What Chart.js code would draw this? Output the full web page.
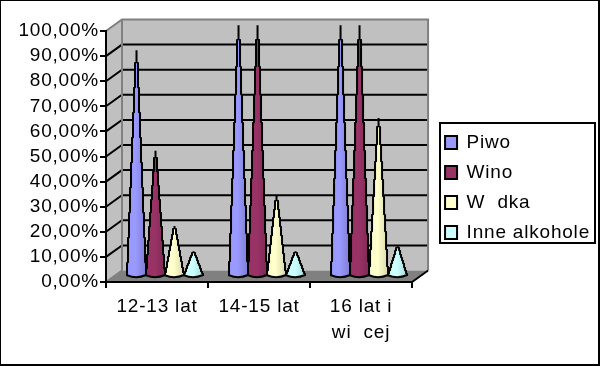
<!DOCTYPE html>
<html>
<head>
<meta charset="utf-8">
<style>
html, body { margin: 0; padding: 0; background: #fff; }
canvas { display: block; }
</style>
<script src="https://cdn.jsdelivr.net/npm/chart.js@4"></script>
</head>
<body>
<canvas id="wykres" width="600" height="366"></canvas>
<script>
var kategorie = ['12-13 lat', '14-15 lat', ['16 lat i', 'wi  cej']];
var etykietyY = ['0,00%', '10,00%', '20,00%', '30,00%', '40,00%', '50,00%', '60,00%', '70,00%', '80,00%', '90,00%', '100,00%'];
var nazwy = ['Piwo', 'Wino', 'W  dka', 'Inne alkohole'];
var piwo = [90, 100, 100];
var wino = [50, 100, 100];
var wodka = [20, 32, 63];
var inne = [10, 10, 12];
var kolory = ['#9999ff', '#993366', '#ffffcc', '#ccffff'];
var ciemne = ['#7f7fd2', '#7f2a55', '#d9d9ad', '#a9dcdc'];

// glebokosc wykresu 3D
var dx = 16, dy = 11.5;

function stozek(c, el, i) {
    var x = el.x + dx / 2;
    var dol = el.base - dy / 2;
    var gora = el.y - dy / 2;
    var r = 9;
    var k, w;
    c.beginPath();
    c.moveTo(x, gora);
    // boki schodkowe, zaokraglone do pelnych pikseli jak w oryginale
    for (k = Math.ceil(gora); k <= dol; k++) {
        w = Math.round(r * (k - gora) / (dol - gora));
        c.lineTo(x + (w > 0 ? w + 0.5 : 0), k);
    }
    c.quadraticCurveTo(x, dol + 4, x - r - 0.5, dol);
    for (k = Math.floor(dol); k >= gora; k--) {
        w = Math.round(r * (k - gora) / (dol - gora));
        c.lineTo(x - (w > 0 ? w + 0.5 : 0), k);
    }
    c.closePath();
    var g = c.createLinearGradient(x - r, 0, x + r, 0);
    g.addColorStop(0, kolory[i]);
    g.addColorStop(0.45, kolory[i]);
    g.addColorStop(1, ciemne[i]);
    c.fillStyle = g;
    c.fill();
    c.strokeStyle = '#000';
    c.lineWidth = 2;
    c.lineJoin = 'miter';
    c.stroke();
}

var sciany = {
    id: 'sciany',
    beforeLayout: function (chart) {
        chart.ctx.letterSpacing = '0.8px';
    },
    beforeDraw: function (chart) {
        var c = chart.ctx, a = chart.chartArea, y = chart.scales.y;
        c.save();
        // ramka calego obrazka
        c.fillStyle = '#000';
        c.fillRect(0, 0, 600, 1);
        c.fillRect(0, 0, 1, 366);
        c.fillRect(598, 0, 2, 366);
        c.fillRect(0, 364, 600, 2);
        // sciana tylna i boczna
        c.fillStyle = '#c0c0c0';
        c.beginPath();
        c.moveTo(a.left, a.top);
        c.lineTo(a.left + dx, a.top - dy);
        c.lineTo(a.right + dx, a.top - dy);
        c.lineTo(a.right + dx, a.bottom - dy);
        c.lineTo(a.left + dx, a.bottom - dy);
        c.lineTo(a.left, a.bottom);
        c.closePath();
        c.fill();
        // podloga
        c.fillStyle = '#808080';
        c.beginPath();
        c.moveTo(a.left, a.bottom);
        c.lineTo(a.left + dx, a.bottom - dy);
        c.lineTo(a.right + dx, a.bottom - dy);
        c.lineTo(a.right, a.bottom);
        c.closePath();
        c.fill();
        // linie siatki
        c.strokeStyle = '#000';
        c.lineWidth = 2;
        y.ticks.forEach(function (t) {
            if (t.value === 0 || t.value === 100) return;
            var p = y.getPixelForValue(t.value);
            c.beginPath();
            c.moveTo(a.left, p);
            c.lineTo(a.left + dx, p - dy);
            c.lineTo(a.right + dx, p - dy);
            c.stroke();
        });
        // krawedzie scian
        c.strokeStyle = '#808080';
        c.beginPath();
        c.moveTo(a.left, a.top);
        c.lineTo(a.left + dx, a.top - dy);
        c.lineTo(a.right + dx, a.top - dy);
        c.lineTo(a.right + dx, a.bottom - dy);
        c.moveTo(a.left + dx, a.top - dy);
        c.lineTo(a.left + dx, a.bottom - dy);
        c.lineTo(a.left, a.bottom);
        c.stroke();
        c.strokeStyle = '#000';
        c.beginPath();
        c.moveTo(a.right, a.bottom);
        c.lineTo(a.right + dx, a.bottom - dy);
        c.stroke();
        // ramka legendy
        c.strokeRect(440, 123, 155, 120);
        c.restore();
    },
    beforeDatasetsDraw: function (chart) {
        var c = chart.ctx;
        c.save();
        chart.data.datasets.forEach(function (d, i) {
            chart.getDatasetMeta(i).data.forEach(function (el) {
                stozek(c, el, i);
            });
        });
        c.restore();
        return false;
    }
};

var serie = [piwo, wino, wodka, inne].map(function (v, i) {
    return {
        label: nazwy[i],
        data: v,
        backgroundColor: kolory[i],
        borderColor: '#000',
        borderWidth: 2,
        categoryPercentage: 0.745,
        barPercentage: 1
    };
});

Chart.defaults.font.family = '"Liberation Sans", Arial, sans-serif';
Chart.defaults.font.size = 19;
Chart.defaults.color = '#000';

var wykres = new Chart(document.getElementById('wykres').getContext('2d'), {
    type: 'bar',
    data: { labels: kategorie, datasets: serie },
    plugins: [sciany],
    options: {
        responsive: false,
        animation: false,
        layout: { padding: { top: 31, left: 6, bottom: 22, right: 0 } },
        plugins: {
            tooltip: { enabled: false },
            legend: {
                position: 'right',
                maxWidth: 175,
                labels: { boxWidth: 12, boxHeight: 13, padding: 11, color: '#000' }
            }
        },
        scales: {
            x: {
                afterFit: function (s) { s.height = 62; },
                grid: { drawOnChartArea: false, drawTicks: true, tickLength: 6, color: '#000', lineWidth: 2 },
                border: { color: '#000', width: 2 },
                ticks: { padding: 5, maxRotation: 0, color: '#000', font: { lineHeight: 1.4 } }
            },
            y: {
                min: 0,
                max: 100,
                afterFit: function (s) { s.width = 100; },
                grid: { drawOnChartArea: false, drawTicks: true, tickLength: 6, color: '#000', lineWidth: 2 },
                border: { color: '#000', width: 2 },
                ticks: {
                    stepSize: 10,
                    autoSkip: false,
                    padding: 1,
                    color: '#000',
                    callback: function (v, i) { return etykietyY[i]; }
                }
            },
            odstep: {
                position: 'right',
                grid: { display: false },
                border: { display: false },
                ticks: { display: false },
                afterFit: function (s) { s.width = 22; }
            }
        }
    }
});
</script>
</body>
</html>
